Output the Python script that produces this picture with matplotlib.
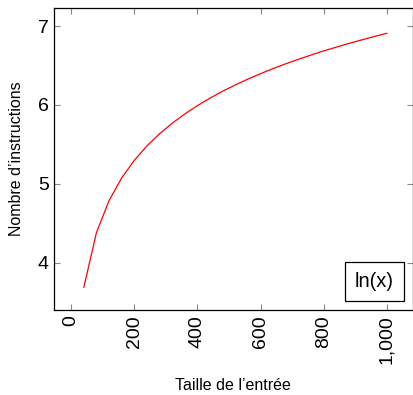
import matplotlib.pyplot as plt
from matplotlib.ticker import FuncFormatter

# ==============================
# DONNÉES
# ==============================

taille = [40, 80, 120, 160, 200, 240, 280, 320, 360, 400, 440, 480, 520,
          560, 600, 640, 680, 720, 760, 800, 840, 880, 920, 960, 1000]
instructions = [3.689, 4.382, 4.787, 5.075, 5.298, 5.481, 5.635, 5.768,
                5.886, 5.991, 6.087, 6.174, 6.254, 6.328, 6.397, 6.461,
                6.522, 6.579, 6.633, 6.685, 6.733, 6.780, 6.824, 6.867,
                6.908]

xticks = [0, 200, 400, 600, 800, 1000]
yticks = [4, 5, 6, 7]

plt.rcParams['font.family'] = ['Liberation Sans', 'DejaVu Sans']

# ==============================
# FIGURE
# ==============================

fig = plt.figure(figsize=(4.14, 3.95), dpi=100)
ax = fig.add_axes([0.130, 0.215, 0.867, 0.765])

ax.plot(taille, instructions, color='red', linewidth=0.9, label='ln(x)')

ax.set_xlim(-55, 1082)
ax.set_ylim(3.40, 7.23)
ax.set_xticks(xticks)
ax.set_yticks(yticks)
ax.xaxis.set_major_formatter(FuncFormatter(lambda v, p: f"{int(v):,}"))

ax.tick_params(direction='in', top=True, right=True, length=4,
               width=0.8, color='#888888', labelsize=14)
ax.tick_params(axis='x', labelrotation=90)
for s in ax.spines.values():
    s.set_linewidth(0.9)

ax.set_xlabel("Taille de l\u2019entrée", fontsize=11.5, labelpad=10)
ax.set_ylabel("Nombre d\u2019instructions", fontsize=11.5, labelpad=10)

leg = ax.legend(loc='lower right', handlelength=0, handletextpad=0,
                fontsize=14.5, fancybox=False, framealpha=1,
                borderpad=0.5, borderaxespad=0.45)
leg.get_frame().set_edgecolor('black')
leg.get_frame().set_linewidth(0.9)
for h in leg.legend_handles:
    h.set_visible(False)

fig.savefig("out.png", dpi=100)
